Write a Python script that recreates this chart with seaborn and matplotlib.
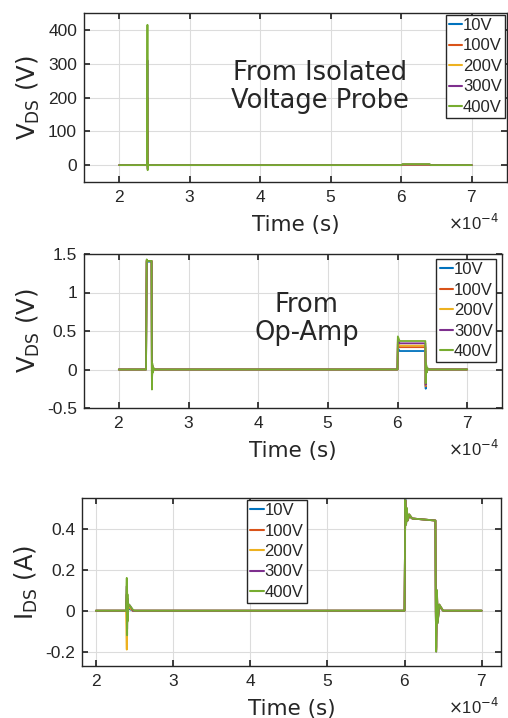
import matplotlib
matplotlib.use("Agg")
import matplotlib.pyplot as plt
from matplotlib.ticker import ScalarFormatter
import seaborn as sns
import numpy as np
import pandas as pd

labels = ['10V', '100V', '200V', '300V', '400V']
colors = ['#0072BD', '#D95319', '#EDB120', '#7E2F8E', '#77AC30']

# times in units of 1e-4 s
t_probe = [2.00, 2.395, 2.40, 2.403, 2.406, 2.41, 2.42, 6.00, 6.02, 6.40, 6.42, 7.00]
v_probe = {
    '10V':  [0, 0, 10, -1, 1, 0, 0, 0, 0.5, 0.5, 0, 0],
    '100V': [0, 0, 100, -4, 2, 0, 0, 0, 1, 1, 0, 0],
    '200V': [0, 0, 200, -7, 3, 0, 0, 0, 1.5, 1.5, 0, 0],
    '300V': [0, 0, 310, -11, 4, 0, 0, 0, 2, 2, 0, 0],
    '400V': [0, 0, 415, -15, 5, -1, 0, 0, 3, 3, 0, 0],
}

t_opamp = [2.00, 2.39, 2.40, 2.41, 2.47, 2.475, 2.48, 2.49, 2.50, 2.52,
           6.00, 6.005, 6.03, 6.40, 6.405, 6.41, 6.42, 6.43, 6.45, 7.00]
v_opamp = {
    '10V':  [0, 0, 1.40, 1.40, 1.40, -0.22, 0.04, -0.02, 0.01, 0, 0, 0.28, 0.24, 0.24, -0.25, 0.06, -0.03, 0.01, 0, 0],
    '100V': [0, 0, 1.41, 1.41, 1.41, -0.23, 0.05, -0.02, 0.01, 0, 0, 0.33, 0.29, 0.29, -0.22, 0.06, -0.03, 0.01, 0, 0],
    '200V': [0, 0, 1.42, 1.41, 1.41, -0.25, 0.05, -0.03, 0.01, 0, 0, 0.36, 0.31, 0.31, -0.21, 0.07, -0.03, 0.01, 0, 0],
    '300V': [0, 0, 1.42, 1.41, 1.41, -0.24, 0.06, -0.03, 0.01, 0, 0, 0.39, 0.34, 0.34, -0.20, 0.07, -0.03, 0.01, 0, 0],
    '400V': [0, 0, 1.43, 1.41, 1.41, -0.26, 0.08, -0.04, 0.02, 0, 0, 0.43, 0.37, 0.37, -0.18, 0.08, -0.04, 0.02, 0, 0],
}

t_ids = [2.00, 2.39, 2.40, 2.405, 2.41, 2.415, 2.42, 2.43, 2.45, 2.48, 2.50,
         6.00, 6.01, 6.02, 6.03, 6.04, 6.06, 6.10, 6.40, 6.405, 6.41, 6.42, 6.43, 6.45, 6.50, 7.00]
i_ids = {
    '10V':  [0, 0, 0.05, -0.04, 0.03, -0.01, 0.01, 0.01, 0.005, 0, 0, 0, 0.55, 0.42, 0.49, 0.44, 0.46, 0.45, 0.44, 0.0, -0.18, 0.08, -0.05, 0.02, 0, 0],
    '100V': [0, 0, 0.08, -0.06, 0.04, -0.02, 0.02, 0.02, 0.01, 0, 0, 0, 0.54, 0.43, 0.49, 0.44, 0.46, 0.45, 0.44, 0.0, -0.19, 0.09, -0.05, 0.02, 0, 0],
    '200V': [0, 0, -0.19, 0.10, -0.05, 0.03, 0.02, 0.02, 0.01, 0, 0, 0, 0.54, 0.42, 0.50, 0.44, 0.47, 0.45, 0.44, 0.0, -0.19, 0.09, -0.05, 0.03, 0, 0],
    '300V': [0, 0, 0.12, -0.09, 0.06, -0.03, 0.03, 0.03, 0.02, 0, 0, 0, 0.54, 0.42, 0.50, 0.44, 0.47, 0.45, 0.44, 0.0, -0.20, 0.10, -0.06, 0.03, 0, 0],
    '400V': [0, 0, 0.16, -0.12, 0.08, -0.05, 0.03, 0.03, 0.02, 0.005, 0, 0, 0.54, 0.42, 0.50, 0.44, 0.47, 0.45, 0.44, 0.0, -0.20, 0.10, -0.06, 0.03, 0, 0],
}


def to_long(t, series):
    rows = []
    for lab in labels:
        for ti, vi in zip(t, series[lab]):
            rows.append({'t': ti * 1e-4, 'v': vi, 'src': lab})
    return pd.DataFrame(rows)


sns.set_theme(style="whitegrid")
plt.rcParams['font.family'] = ['DejaVu Sans']
plt.rcParams['axes.edgecolor'] = '#262626'
plt.rcParams['grid.color'] = '#dcdcdc'

W, H = 508, 718
fig = plt.figure(figsize=(W / 100, H / 100), dpi=100)


def make_axes(l, r, t, b):
    return fig.add_axes([l / W, (H - b) / H, (r - l) / W, (b - t) / H])


ax1 = make_axes(84, 507, 13, 182)
ax2 = make_axes(84, 502, 254, 408)
ax3 = make_axes(82, 501, 498, 666)

panels = [
    (ax1, to_long(t_probe, v_probe), 'V$_{\\rm DS}$ (V)', (-50, 450), np.arange(0, 401, 100), (1.5e-4, 7.5e-4), 182),
    (ax2, to_long(t_opamp, v_opamp), 'V$_{\\rm DS}$ (V)', (-0.5, 1.5), np.arange(-0.5, 1.51, 0.5), (1.5e-4, 7.5e-4), 408),
    (ax3, to_long(t_ids, i_ids), 'I$_{\\rm DS}$ (A)', (-0.27, 0.55), np.arange(-0.2, 0.41, 0.2), (1.82e-4, 7.25e-4), 666),
]

tick_font = ['Liberation Sans', 'DejaVu Sans']
for ax, df, ylab, ylim, yt, xlim, bottom_px in panels:
    sns.lineplot(data=df, x='t', y='v', hue='src', palette=colors, hue_order=labels,
                 estimator=None, sort=False, linewidth=1.3, ax=ax)
    ax.set_xlim(*xlim)
    ax.set_ylim(*ylim)
    ax.set_yticks(yt)
    ax.set_xticks(np.arange(2, 7.1, 1) * 1e-4)
    fmt = ScalarFormatter(useMathText=True)
    fmt.set_powerlimits((-3, 3))
    ax.xaxis.set_major_formatter(fmt)
    ax.xaxis.get_offset_text().set_visible(False)
    ax.set_xlabel('Time (s)', fontsize=15.5, labelpad=7)
    ax.set_ylabel(ylab, fontsize=17.5, labelpad=4)
    ax.tick_params(axis='both', labelsize=12.5, direction='in', length=4, top=True, right=True,
                   bottom=True, left=True, color='#262626', pad=5)
    for lab in ax.get_xticklabels() + ax.get_yticklabels():
        lab.set_family(tick_font)
    ax.grid(True, linewidth=0.8)
    for s in ax.spines.values():
        s.set_linewidth(1.0)
        s.set_color('#262626')
    # exponent label, placed in figure pixels like the reference
    fig.text(499 / W, (H - bottom_px - 48) / H, '$\\times$10$^{-4}$', ha='right', va='baseline',
             fontsize=12, family=tick_font, color='#262626')

ax2.set_yticklabels(['-0.5', '0', '0.5', '1', '1.5'], family=tick_font)
ax3.set_yticklabels(['-0.2', '0', '0.2', '0.4'], family=tick_font)

leg_kw = dict(prop={'family': tick_font, 'size': 12}, handlelength=0.8, handletextpad=0.05,
              borderpad=0.2, labelspacing=0.33, borderaxespad=0.1, fancybox=False, framealpha=1)
for ax, loc, anchor in [(ax1, 'upper right', (1.0, 1.0)),
                        (ax2, 'upper right', (0.99, 0.98)),
                        (ax3, 'upper center', (0.465, 1.0))]:
    leg = ax.legend(loc=loc, bbox_to_anchor=anchor, **leg_kw)
    leg.get_frame().set_edgecolor('#262626')
    leg.get_frame().set_linewidth(1.0)
    for h in leg.get_lines():
        h.set_linewidth(1.5)

ax1.text(4.85e-4, 230, 'From Isolated\nVoltage Probe', fontsize=18.5, ha='center', va='center',
         linespacing=1.1)
ax2.text(4.7e-4, 0.65, 'From\nOp-Amp', fontsize=18.5, ha='center', va='center', linespacing=1.1)

fig.savefig('out.png', dpi=100)
